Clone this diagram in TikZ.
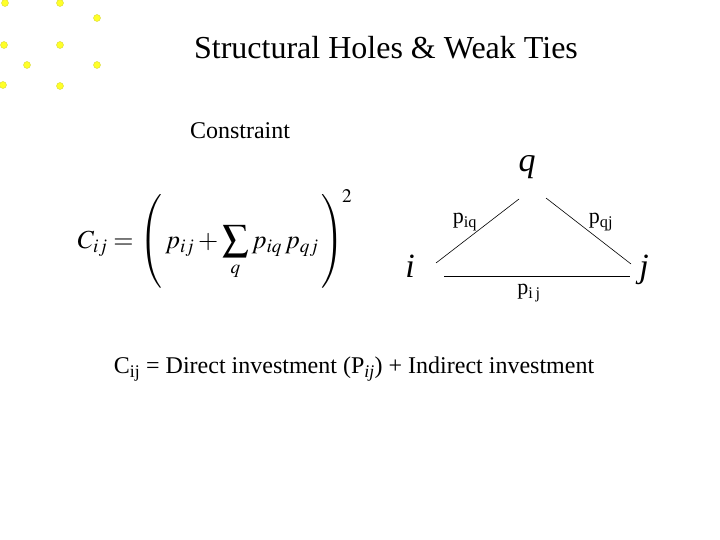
\documentclass[tikz,border=0pt]{standalone}
\usepackage{mathptmx}
\usepackage[no-math]{fontspec}
\setmainfont{Liberation Serif}
\usetikzlibrary{positioning}

\definecolor{dotyellow}{RGB}{255,255,40}
\definecolor{dotrim}{RGB}{215,215,60}

\tikzset{
  dot/.style={circle,fill=dotyellow,draw=dotrim,line width=0.4pt,inner sep=0pt,minimum size=7pt},
  vertex/.style={font=\fontsize{34}{38}\selectfont\itshape},
  weight/.style={font=\fontsize{22}{26}\selectfont},
  tie/.style={draw=black,line width=0.6pt}
}

\begin{document}
\begin{tikzpicture}[x=1pt,y=-1pt]
  \useasboundingbox (0,0) rectangle (720,540);
  % corner decoration
  \foreach \px/\py [count=\k] in {5/3,60/3,97/18,4/45,60/45,27/65,97/65,3/85,60/86}
    \node[dot] (dot\k) at (\px,\py) {};

  \node (title) at (386,48) {\fontsize{32}{36}\selectfont Structural Holes \& Weak Ties};
  \node (constraint) at (240,131) {\fontsize{24}{28}\selectfont Constraint};

  % the formula
  \node[inner sep=0pt] (formula) at (215,239) {\fontsize{26}{30}\selectfont
    $\displaystyle C_{ij} = {\left(\vrule height 37pt depth 39pt width 0pt\, p_{ij} + \sum_{q} p_{iq}\,p_{qj} \,\right)}^{\!2}$};

  % the triad
  \node[vertex] (q) at (527,167) {q};
  \node[vertex] (i) at (410,266) {i};
  \node[vertex] (j) at (644,270) {j};
  \coordinate (iq-a) at ([shift={(26,-3)}]i.center);
  \coordinate (iq-b) at ([shift={(-8,32)}]q.center);
  \coordinate (qj-a) at ([shift={(19,31)}]q.center);
  \coordinate (qj-b) at ([shift={(-13,-6)}]j.center);
  \coordinate (ij-a) at ([shift={(34,10)}]i.center);
  \coordinate (ij-b) at ([shift={(-14,6)}]j.center);
  \draw[tie] (iq-a) -- (iq-b);
  \draw[tie] (qj-a) -- (qj-b);
  \draw[tie] (ij-a) -- (ij-b);
  \node[weight] (piq) at (465,222) {p\textsubscript{iq}};
  \node[weight] (pqj) at (601,222) {p\textsubscript{qj}};
  \node[weight] (pij) at (529,293) {p\textsubscript{i\,j}};

  \node (summary) at (354,369) {\fontsize{24}{28}\selectfont
    C\textsubscript{ij} = Direct investment (P\textsubscript{\itshape ij}) + Indirect investment};
\end{tikzpicture}
\end{document}
